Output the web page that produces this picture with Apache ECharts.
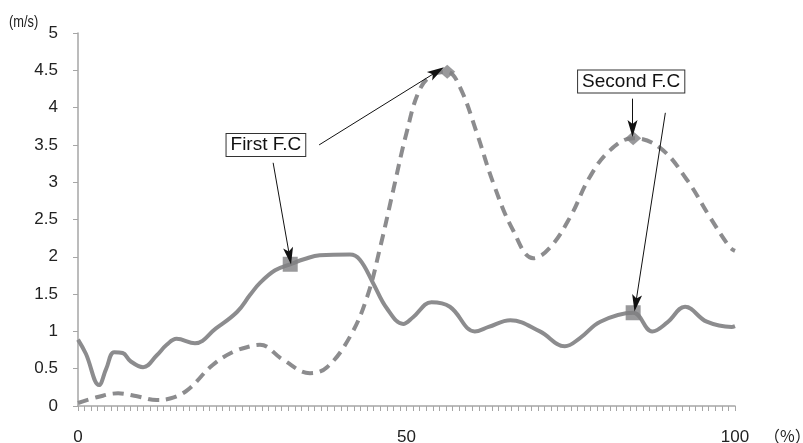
<!DOCTYPE html>
<html>
<head>
<meta charset="utf-8">
<script src="https://cdn.jsdelivr.net/npm/echarts@6/dist/echarts.min.js"></script>
<style>html,body{margin:0;padding:0;background:#fff}#c{width:803px;height:443px}</style>
</head>
<body>
<div id="c"></div>
<script>
// Solid line (x in %, value in m/s)
const solidX = [0,1.2,3.2,4.3,5.5,6.8,8,9.9,12,13.5,15,17.8,21,24.2,26.2,27.7,30,32.3,34.5,36.8,41.4,42.9,44.9,47,49.5,51,53.8,56.6,60.4,62.5,65.8,70.3,74.1,76.4,79.5,84.5,87.4,89.7,92.4,95.7,99.5,100];
const solidY = [0.89,0.7,0.28,0.5,0.72,0.71,0.6,0.52,0.68,0.82,0.9,0.84,1.04,1.26,1.49,1.65,1.82,1.9,1.97,2.02,2.03,1.96,1.65,1.31,1.1,1.19,1.39,1.33,1.0,1.06,1.15,1.0,0.8,0.91,1.13,1.25,1.0,1.12,1.33,1.13,1.06,1.07];
// Dashed line
const dashX = [0,3,6.1,9,12,14,16.6,20.5,23.5,26.2,27.7,31.2,35.3,37.9,41.4,44,46,48,50,52,54,56.2,58.1,60.7,63.2,66.2,69.3,71.8,74.9,77.9,81,84.5,88.6,92.7,96.2,99.2,100];
const dashY = [0.04,0.12,0.17,0.13,0.08,0.1,0.21,0.55,0.72,0.8,0.82,0.62,0.44,0.52,0.93,1.46,2.13,2.9,3.66,4.24,4.44,4.48,4.28,3.66,2.99,2.36,1.98,2.12,2.53,3.07,3.43,3.59,3.46,3.03,2.53,2.13,2.08];
// Markers
const squarePts = [[32.3,1.9],[84.5,1.25]];
const diamondPts = [[56.2,4.48],[84.5,3.59]];
// Annotations
const labelTexts = ['First F.C','Second F.C'];
const labelPos = [[28.6,3.5],[84.2,4.35]];
const arrows = [
  [[29.7,3.26],[32.2,2.01]],
  [[36.7,3.5],[54.6,4.48]],
  [[84.4,4.12],[84.4,3.72]],
  [[89.4,3.93],[84.9,1.38]]
];
const yTicks = [0,0.5,1,1.5,2,2.5,3,3.5,4,4.5,5];
const xLabels = [0,50,100];

const axisGrey = '#a6a6a6';
const lineGrey = '#8c8c8e';
const font = 'Liberation Sans';

const zip = (xs, ys) => xs.map((x,i)=>[x, ys[i]]);
const arrowPath = 'path://M5,0 L10,17 L5,13 L0,17 Z';

const chart = echarts.init(document.getElementById('c'));
chart.setOption({
  animation: false,
  grid: {left: 78, right: 68, top: 33, bottom: 37, containLabel: false, outerBoundsMode: 'none'},
  xAxis: {
    type: 'value', min: 0, max: 100, interval: 1,
    splitLine: {show: false},
    axisLine: {lineStyle: {color: axisGrey, width: 1.5}},
    axisTick: {show: true, length: 5, lineStyle: {color: axisGrey}},
    axisLabel: {
      margin: 23, color: '#222', fontSize: 17, fontFamily: font,
      formatter: v => xLabels.indexOf(v) >= 0 ? String(v) : ''
    }
  },
  yAxis: {
    type: 'value', min: 0, max: 5, interval: 0.5,
    splitLine: {show: false},
    axisLine: {show: true, lineStyle: {color: axisGrey, width: 1.5}},
    axisTick: {show: true, length: 5, lineStyle: {color: axisGrey}},
    axisLabel: {margin: 20, color: '#222', fontSize: 17, fontFamily: font,
      formatter: v => yTicks.indexOf(v) >= 0 ? String(v) : ''}
  },
  graphic: [
    {type: 'text', left: 9, top: 15, scaleX: 0.8, style: {text: '(m/s)', fontSize: 16, fontFamily: font, fill: '#222'}},
    {type: 'text', left: 764, top: 428, style: {text: '（%）', fontSize: 16, fontFamily: 'Noto Sans CJK JP', fill: '#222'}}
  ],
  series: [
    {
      type: 'line', data: zip(solidX, solidY), smooth: 0.4, showSymbol: false,
      lineStyle: {color: lineGrey, width: 4}, z: 2
    },
    {
      type: 'line', data: zip(dashX, dashY), smooth: 0.4, showSymbol: false,
      lineStyle: {color: lineGrey, width: 4, type: [11, 7]}, z: 2
    },
    {
      type: 'scatter', data: squarePts, symbol: 'rect', symbolSize: 15,
      itemStyle: {color: '#808082'}, z: 3
    },
    {
      type: 'scatter', data: diamondPts, symbol: 'diamond', symbolSize: [16, 14],
      itemStyle: {color: '#808082'}, z: 3
    },
    {
      type: 'scatter', data: [], z: 5,
      markLine: {
        silent: true, animation: false,
        symbol: ['none', arrowPath], symbolSize: 17, symbolKeepAspect: true,
        lineStyle: {color: '#111', width: 1, type: 'solid'},
        label: {show: false},
        data: arrows.map(a => [{coord: a[0]}, {coord: a[1]}])
      },
      markPoint: {
        silent: true, animation: false,
        symbol: 'rect', symbolSize: 1, itemStyle: {color: 'rgba(0,0,0,0)'},
        label: {
          show: true, position: 'inside', color: '#111', fontSize: 19, fontFamily: font,
          backgroundColor: '#fff', borderColor: '#333', borderWidth: 1,
          padding: [2, 4, 1, 4], formatter: p => p.name
        },
        data: labelPos.map((c, i) => ({name: labelTexts[i], coord: c}))
      }
    }
  ]
});
</script>
</body>
</html>
